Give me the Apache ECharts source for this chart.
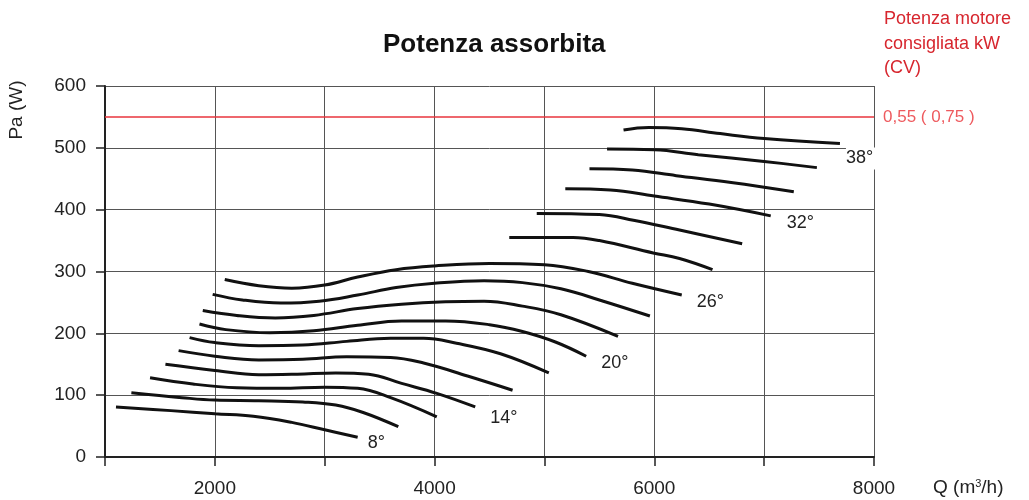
<!DOCTYPE html>
<html>
<head>
<meta charset="utf-8">
<script src="https://cdn.jsdelivr.net/npm/echarts@6/dist/echarts.min.js"></script>
<style>html,body{margin:0;padding:0;background:#fff}#c{width:1029px;height:500px}</style>
</head>
<body>
<div id="c"></div>
<script>
// Blade angles of the curves
const angles = [8, 10, 12, 14, 16, 18, 20, 22, 24, 26, 28, 30, 32, 34, 36, 38];
const labeledAngles = [8, 14, 20, 26, 32, 38];
// Curves: [Q (m3/h), Pa (W)]
const q8  = [[1100,81],[1600,75],[2000,70],[2350,66],[2700,56],[3000,44],[3300,32]];
const q10 = [[1240,104],[1700,96],[2000,92],[2400,91],[2800,89],[3100,84],[3350,72],[3670,49]];
const q12 = [[1410,128],[1800,118],[2200,112],[2600,111],[3000,113],[3300,111],[3600,96],[4020,65]];
const q14 = [[1550,150],[2000,140],[2400,133],[2750,134],[3100,136],[3400,134],[3700,119],[4020,103],[4370,81]];
const q16 = [[1670,172],[2000,163],[2400,157],[2800,158],[3200,162],[3600,161],[3900,152],[4300,131],[4710,108]];
const q18 = [[1770,193],[2000,185],[2400,180],[2800,181],[3200,187],[3600,192],[3900,192],[4200,184],[4600,167],[5040,136]];
const q20 = [[1860,215],[2100,206],[2500,201],[2900,204],[3300,213],[3700,220],[4100,220],[4500,214],[4800,203],[5100,186],[5380,163]];
const q22 = [[1890,237],[2200,229],[2550,225],[2900,229],[3300,240],[3700,247],[4100,251],[4450,252],[4800,244],[5150,230],[5670,195]];
const q24 = [[1980,263],[2250,254],[2600,249],[2950,252],[3300,262],[3650,274],[4000,281],[4450,285],[4800,282],[5150,272],[5500,254],[5960,228]];
const q26 = [[2090,287],[2400,277],[2700,273],[3000,278],[3300,291],[3650,303],[4000,309],[4500,313],[5000,311],[5400,300],[5800,281],[6250,262]];
const q28 = [[4680,355],[5260,355],[5500,350],[5990,330],[6230,321],[6530,303]];
const q30 = [[4930,394],[5500,392],[5810,383],[6230,367],[6800,345]];
const q32 = [[5190,434],[5600,432],[6000,422],[6500,409],[7060,390]];
const q34 = [[5410,466],[5800,464],[6200,455],[6700,444],[7270,429]];
const q36 = [[5570,498],[6000,497],[6400,489],[7000,478],[7480,468]];
const q38 = [[5720,529],[5950,533],[6250,531],[6600,523],[7000,515],[7690,507]];
const curves = [q8, q10, q12, q14, q16, q18, q20, q22, q24, q26, q28, q30, q32, q34, q36, q38];
// Recommended motor power line
const motorPower = 550;
const motorLabel = '0,55 ( 0,75 )';
const xTicks = [2000, 4000, 6000, 8000];

// label placement (style)
const labelOffsets = {8:[10,6],14:[15,11],20:[15,7],26:[15,7],32:[16,7],38:[6,15]};
const FONT = 'Liberation Sans, Arial, Helvetica, sans-serif';

const series = curves.map((d, i) => {
  const a = angles[i];
  const s = {
    type: 'line', data: d, smooth: 0.4, symbol: 'none', silent: true,
    lineStyle: {color: '#111', width: 3}, z: 3
  };
  if (labeledAngles.indexOf(a) >= 0) {
    s.endLabel = {
      show: true, formatter: a + '°', color: '#222', fontSize: 18, fontFamily: FONT,
      distance: 0, offset: labelOffsets[a], align: 'left', verticalAlign: 'middle',
      backgroundColor: '#fff', padding: [2, 2, 2, 0]
    };
  }
  return s;
});
series.push({
  type: 'line', data: [], symbol: 'none',
  markLine: {
    silent: true, symbol: 'none', animation: false,
    lineStyle: {color: '#e8343c', width: 1.5, type: 'solid'},
    label: {show: true, position: 'end', distance: 9, formatter: motorLabel, color: '#ee5a5e', fontSize: 17, fontFamily: FONT},
    data: [{yAxis: motorPower}]
  }
});

const chart = echarts.init(document.getElementById('c'));
chart.setOption({
  animation: false,
  backgroundColor: '#fff',
  title: {
    text: 'Potenza assorbita', left: 378, top: 27,
    textStyle: {fontSize: 26, fontWeight: 'bold', color: '#111', fontFamily: FONT}
  },
  grid: {left: 105, right: 155, top: 86, bottom: 43},
  xAxis: {
    type: 'value', min: 1000, max: 8000, interval: 1000,
    name: '{n|Q (m}{s|3}{n|/h)}', nameLocation: 'end', nameGap: 59,
    nameTextStyle: {
      verticalAlign: 'top', align: 'left', padding: [21, 0, 0, 0],
      rich: {n: {fontSize: 19, color: '#222', fontFamily: FONT, lineHeight: 21, verticalAlign: 'top'},
             s: {fontSize: 11, color: '#222', fontFamily: FONT, lineHeight: 12, verticalAlign: 'top'}}
    },
    axisLine: {lineStyle: {color: '#222', width: 2}},
    axisTick: {show: true, length: 9, lineStyle: {color: '#222', width: 1.5}},
    axisLabel: {
      margin: 22, fontSize: 19, color: '#222', fontFamily: FONT,
      formatter: v => (xTicks.indexOf(v) >= 0 ? String(v) : '')
    },
    splitLine: {show: true, lineStyle: {color: '#555', width: 1}}
  },
  yAxis: {
    type: 'value', min: 0, max: 600, interval: 100,
    axisLine: {show: true, lineStyle: {color: '#222', width: 2}},
    axisTick: {show: true, length: 9, lineStyle: {color: '#222', width: 1.5}},
    axisLabel: {margin: 19, fontSize: 19, color: '#222', fontFamily: FONT},
    splitLine: {show: true, lineStyle: {color: '#555', width: 1}}
  },
  graphic: [
    {type: 'text', x: 17, y: 110, rotation: Math.PI / 2,
     style: {text: 'Pa (W)', fontSize: 19, fill: '#222', fontFamily: FONT, textAlign: 'center', textVerticalAlign: 'middle'}},
    {type: 'text', left: 884, top: 7,
     style: {text: 'Potenza motore\nconsigliata kW\n(CV)', fontSize: 18, lineHeight: 24.5, fill: '#d7262e', fontFamily: FONT}}
  ],
  series: series
});
</script>
</body>
</html>
